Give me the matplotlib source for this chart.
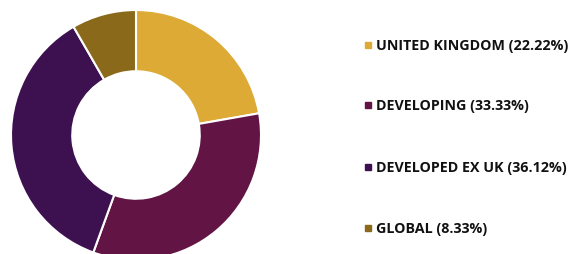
import matplotlib
matplotlib.use("Agg")
import matplotlib.pyplot as plt
from matplotlib.patches import Rectangle

labels = ["UNITED KINGDOM", "DEVELOPING", "DEVELOPED EX UK", "GLOBAL"]
values = [22.22, 33.33, 36.12, 8.33]
colors = ["#DCAA35", "#621444", "#3D1050", "#8A6A1A"]

W, H = 571, 255
fig = plt.figure(figsize=(W / 100, H / 100), dpi=100)

# donut: centre (136, 136) px from top-left, radius 125 px
cx, cy, r = 136, 136, 125
ax = fig.add_axes([(cx - r) / W, (H - cy - r) / H, 2 * r / W, 2 * r / H])
ax.pie(values, colors=colors, startangle=90, counterclock=False,
       radius=1.0, wedgeprops=dict(width=0.49, edgecolor="white", linewidth=1.5))
ax.set_xlim(-1, 1)
ax.set_ylim(-1, 1)
ax.set_aspect("equal")
ax.axis("off")
for p in ax.patches:
    p.set_clip_on(False)

# legend on the right
row_y = [46, 106, 168, 229]
for lab, val, col, y in zip(labels, values, colors, row_y):
    fig.patches.append(Rectangle((365 / W, (H - y - 3) / H), 6 / W, 6 / H,
                                 transform=fig.transFigure, color=col))
    fig.text(376 / W, (H - y) / H, f"{lab} ({val:.2f}%)", fontsize=10.3,
             fontweight="bold", family="Open Sans", color="#111111",
             va="center", ha="left")

fig.savefig("out.png", dpi=100)
